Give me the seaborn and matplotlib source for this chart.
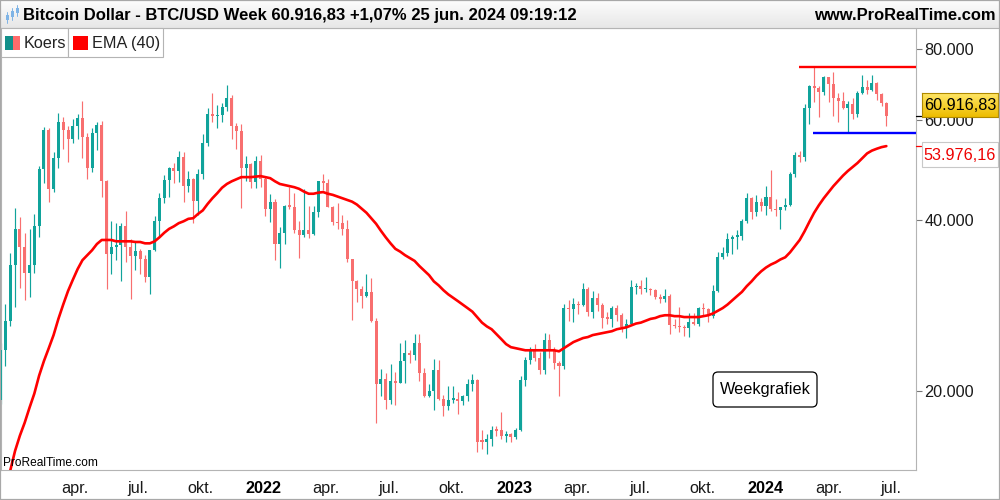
import numpy as np
import pandas as pd
import matplotlib
matplotlib.use("Agg")
import matplotlib.pyplot as plt
import matplotlib.dates as mdates
from matplotlib.patches import Rectangle, FancyBboxPatch
from matplotlib.lines import Line2D
from matplotlib.ticker import NullLocator
import seaborn as sns

# ---------------- data (weekly candles, USD) ----------------
first_week = "2020-12-14"
opens = [19300, 23600, 26600, 33300, 38500, 35900, 32300, 33400, 39000, 49200,
         57600, 45400, 51400, 59600, 57600, 55500, 58600, 60400, 56100, 49300,
         57000, 58900, 46900, 34900, 35900, 36100, 39000, 35800, 34600, 35300,
         34200, 31800, 35500, 39900, 43800, 47000, 49300, 48800, 51700, 46000,
         47300, 43200, 48200, 54700, 61500, 60900, 61300, 63300, 65500, 58600,
         57300, 49400, 50100, 46700, 50800, 47300, 41800, 43100, 36300, 37900,
         42400, 42200, 38400, 37700, 38400, 37800, 41300, 46800, 46400, 42200,
         39700, 39500, 38500, 34100, 31300, 30300, 29400, 29900, 26600, 20600,
         21000, 19300, 20800, 20700, 22600, 23300, 23200, 24300, 21500, 19600,
         20000, 21800, 19400, 18800, 19300, 19400, 19200, 19600, 20600, 20900,
         16400, 16300, 16500, 17100, 17100, 16700, 16800, 16600, 17100, 20900,
         22700, 23700, 22900, 21800, 24600, 23500, 22400, 22100, 28000, 27900,
         28500, 28300, 30300, 27600, 29200, 28400, 26900, 26800, 28000, 27200,
         25900, 26300, 30500, 30600, 30200, 30300, 30100, 29300, 29000, 29400,
         26100, 26000, 25900, 25800, 26500, 26300, 28000, 27900, 27100, 30000,
         34500, 35000, 37000, 37400, 37500, 39900, 43800, 41300, 43000, 42300,
         43900, 41800, 41600, 42100, 42600, 48300, 52100, 51700, 63100, 68900,
         68400, 67200, 71300, 69400, 65700, 64900, 63100, 63900, 61500, 66900,
         68500, 67800, 69600, 66600, 64200]
highs = [24300, 28500, 35000, 42000, 40500, 37900, 38600, 41000, 49700, 58400,
         58200, 52700, 61800, 60800, 58500, 60300, 61500, 64900, 57000, 58000,
         59600, 59800, 47000, 39800, 39500, 39600, 41500, 37000, 36600, 35600,
         34700, 35400, 40600, 44700, 48100, 49600, 50500, 52900, 52800, 48800,
         47400, 49200, 56600, 62900, 67000, 63700, 64200, 69000, 66300, 59300,
         59100, 51900, 50500, 51900, 52100, 47600, 44400, 43500, 38900, 42600,
         45800, 44700, 39800, 45400, 42400, 42300, 46900, 48200, 47200, 42400,
         42900, 40800, 40000, 34200, 31400, 30600, 32200, 31600, 26900, 21900,
         21500, 22300, 21600, 24300, 24600, 23600, 25200, 25200, 22000, 20600,
         22800, 22700, 19700, 20400, 20400, 19900, 19700, 21000, 21400, 21000,
         17100, 16800, 17400, 17400, 18400, 17000, 16900, 17200, 21300, 23000,
         23900, 24200, 23400, 25300, 25200, 23900, 22600, 28500, 28900, 29200,
         28800, 31000, 30500, 30000, 29800, 28600, 27600, 28200, 28400, 27400,
         26800, 31400, 31000, 31400, 31800, 30400, 30300, 29700, 30200, 29700,
         26800, 28100, 26100, 27400, 27400, 28100, 28600, 28000, 30800, 35200,
         35900, 37900, 37700, 38400, 40200, 44700, 44000, 44300, 43800, 45900,
         48900, 43600, 42200, 43800, 48600, 52800, 52900, 64000, 69200, 74300,
         68900, 71600, 71400, 72800, 66900, 67200, 64700, 65500, 67400, 71900,
         70600, 71900, 70100, 67000, 64500]
lows = [19000, 22100, 26000, 28100, 30400, 28900, 29300, 32300, 37400, 46500,
        43100, 44900, 49400, 53300, 50600, 54700, 55500, 51500, 47200, 48600,
        53100, 44000, 30200, 32200, 34000, 31300, 33800, 29000, 32700, 32100,
        31100, 29600, 35300, 37500, 42800, 43900, 46400, 46600, 43000, 44800,
        39600, 40900, 47200, 53900, 59500, 58000, 59500, 62300, 55600, 53300,
        42000, 46800, 45500, 45500, 45700, 40600, 39700, 34000, 32900, 36300,
        41800, 38000, 34300, 37400, 37200, 37600, 40500, 45200, 42100, 39200,
        38500, 37700, 33700, 26700, 28700, 28000, 29300, 26500, 17600, 19600,
        18600, 19000, 18900, 20700, 20700, 22400, 22700, 20800, 19500, 19500,
        18500, 19300, 18100, 18500, 19100, 18200, 18900, 19200, 20000, 15600,
        15800, 15500, 16000, 16700, 16500, 16300, 16300, 16500, 17000, 20400,
        22300, 22600, 21400, 21400, 22900, 21900, 19600, 21900, 26600, 26500,
        27300, 28200, 27100, 26900, 27700, 25800, 26200, 25900, 26600, 25400,
        24800, 26200, 29600, 29700, 29900, 29500, 29000, 28600, 28700, 25200,
        25800, 25400, 25000, 24900, 26100, 26000, 27200, 26500, 26900, 29900,
        34100, 34600, 34800, 35600, 36900, 39600, 40200, 40600, 41500, 40800,
        41500, 40700, 38500, 41600, 42300, 47700, 50600, 50900, 59000, 64600,
        60800, 66400, 64500, 61000, 59600, 62800, 56900, 60200, 60800, 66700,
        66600, 67600, 65100, 63400, 58500]
closes = [23600, 26600, 33300, 38500, 35900, 32300, 33400, 39000, 49200, 57600,
          45400, 51400, 59600, 57600, 55500, 58600, 60400, 56100, 49300, 57000,
          58900, 46900, 34900, 35900, 36100, 39000, 35800, 34600, 35300, 34200,
          31800, 35500, 39900, 43800, 47000, 49300, 48800, 51700, 46000, 47300,
          43200, 48200, 54700, 61500, 60900, 61300, 63300, 65500, 58600, 57300,
          49400, 50100, 46700, 50800, 47300, 41800, 43100, 36300, 37900, 42400,
          42200, 38400, 37700, 38400, 37800, 41300, 46800, 46400, 42200, 39700,
          39500, 38500, 34100, 31300, 30300, 29400, 29900, 26600, 20600, 21000,
          19300, 20800, 20700, 22600, 23300, 23200, 24300, 21500, 19600, 20000,
          21800, 19400, 18800, 19300, 19400, 19200, 19600, 20600, 20900, 16300,
          16300, 16500, 17100, 17050, 16700, 16800, 16600, 17100, 20900, 22700,
          23700, 22900, 21800, 24600, 23500, 22400, 22100, 28000, 27900, 28500,
          28300, 30300, 27600, 29200, 28400, 26900, 26800, 28000, 27200, 25900,
          26300, 30500, 30600, 30200, 30300, 30100, 29300, 29000, 29400, 26100,
          26000, 25900, 25800, 26500, 26300, 28000, 27900, 27100, 30000, 34500,
          35000, 37000, 37400, 37500, 39900, 43800, 41300, 43000, 42300, 43900,
          41800, 41600, 42100, 42600, 48300, 52100, 51700, 63100, 68900, 68400,
          67200, 71300, 69400, 65700, 64900, 63100, 63900, 61500, 66900, 68500,
          67800, 69600, 66600, 64200, 60917]

# EMA(40), one value per week starting 2020-12-28
ema_first_week = "2020-12-28"
ema_values = [14500, 15700, 16700, 17600, 18700, 19800, 21300, 22600, 23800, 25100,
              26800, 28400, 30000, 31400, 32800, 34000, 34700, 35400, 36300, 36900,
              36900, 36900, 36700, 36700, 36700, 36700, 36600, 36600, 36400, 36400,
              36700, 37300, 38000, 38600, 39000, 39500, 39800, 40200, 40300, 41000,
              41600, 42700, 43700, 44600, 45600, 46300, 46800, 47200, 47600, 47600,
              47600, 47700, 47800, 47600, 47400, 46800, 46300, 46100, 45900, 45700,
              45400, 44900, 44500, 44500, 44700, 44800, 44500, 44300, 44000, 43700,
              43400, 43100, 42600, 41900, 41200, 40300, 39400, 38300, 37300, 36400,
              35600, 35200, 34700, 34300, 33900, 33200, 32600, 32000, 31200, 30700,
              30100, 29600, 29200, 28800, 28400, 28000, 27600, 27000, 26400, 26000,
              25700, 25200, 24700, 24200, 23900, 23800, 23700, 23600, 23600, 23600,
              23600, 23600, 23600, 23600, 23500, 23800, 24100, 24400, 24600, 24800,
              24900, 25100, 25200, 25300, 25400, 25500, 25700, 25800, 25900, 26100,
              26300, 26400, 26600, 26800, 26900, 27100, 27200, 27200, 27100, 27100,
              27000, 27000, 27000, 27000, 27100, 27200, 27400, 27700, 28000, 28400,
              28900, 29400, 29900, 30600, 31200, 31900, 32500, 33000, 33400, 33700,
              34100, 34400, 35100, 36000, 36900, 38200, 39700, 41200, 42500, 43700,
              44800, 45900, 46900, 47900, 48800, 49600, 50400, 51400, 52400, 53000,
              53400, 53750, 53976]

resistance_level = 74400
resistance_from = "2024-02-18"
support_level = 56900
support_from = "2024-03-09"

y_ticks = [20000, 40000, 60000, 80000]
y_tick_labels = ["20.000", "40.000", "60.000", "80.000"]
x_tick_dates = ["2021-01-01", "2021-04-01", "2021-07-01", "2021-10-01",
                "2022-01-01", "2022-04-01", "2022-07-01", "2022-10-01",
                "2023-01-01", "2023-04-01", "2023-07-01", "2023-10-01",
                "2024-01-01", "2024-04-01", "2024-07-01"]
x_tick_labels = ["", "apr.", "jul.", "okt.", "2022", "apr.", "jul.", "okt.",
                 "2023", "apr.", "jul.", "okt.", "2024", "apr.", "jul."]

title_text = "Bitcoin Dollar - BTC/USD Week 60.916,83 +1,07% 25 jun. 2024 09:19:12"
site_text = "www.ProRealTime.com"
legend_labels = ["Koers", "EMA (40)"]
last_price = 60916.83
last_price_label = "60.916,83"
ema_last_label = "53.976,16"
note_text = "Weekgrafiek"
watermark = "ProRealTime.com"

# ---------------- style ----------------
TEAL = "#10a39b"
SALMON = "#f86f6f"
EMA_RED = "#ff0000"
GRID_GRAY = "#b4b4b4"
FS = 11.7

sns.set_theme(style="white")
plt.rcParams["font.family"] = ["Liberation Sans", "DejaVu Sans"]

W, H = 1000, 500
fig = plt.figure(figsize=(10, 5), dpi=100)
fig.patch.set_facecolor("white")
IN = fig.dpi_scale_trans


def P(x, y):
    """pixel (top-left origin) -> inches for dpi_scale_trans"""
    return x / 100.0, (H - y) / 100.0


# plot area in pixels
L, R, T, B = 1, 916, 28, 470
ax = fig.add_axes([L / W, 1 - B / H, (R - L) / W, (B - T) / H])
ax.set_facecolor("white")

ref = mdates.date2num(pd.Timestamp("2022-01-01"))
px_per_day = 251.0 / 365.0
x_left = ref - (264 - L) / px_per_day
x_right = ref + (R - 264) / px_per_day

dates = pd.date_range(first_week, periods=len(closes), freq="7D")
xs = mdates.date2num(dates)
o = np.array(opens, float)
h = np.array(highs, float)
lo = np.array(lows, float)
c = np.array(closes, float)
up = c >= o
cols = np.where(up, TEAL, SALMON)

ax.set_yscale("log")
ax.vlines(xs, lo, h, colors=cols, linewidth=0.85, zorder=2)
body_lo = np.minimum(o, c)
body_hi = np.maximum(np.maximum(o, c), body_lo * 1.006)
ax.bar(xs, body_hi - body_lo, bottom=body_lo, width=4.4, color=cols,
       linewidth=0, zorder=3, align="center")

ema_x = mdates.date2num(pd.date_range(ema_first_week, periods=len(ema_values), freq="7D"))
sns.lineplot(x=ema_x, y=ema_values, ax=ax, color=EMA_RED, linewidth=1.9,
             zorder=4, legend=False, estimator=None, sort=False)

ax.hlines(resistance_level, mdates.date2num(pd.Timestamp(resistance_from)), x_right,
          color="#ff0000", linewidth=1.7, zorder=5)
ax.hlines(support_level, mdates.date2num(pd.Timestamp(support_from)), x_right,
          color="#0000ff", linewidth=1.7, zorder=5)

ax.set_xlim(x_left, x_right)
ax.set_ylim(14530, 87100)

ax.yaxis.tick_right()
ax.set_yticks(y_ticks, labels=y_tick_labels)
ax.yaxis.set_minor_locator(NullLocator())
ax.tick_params(axis="y", which="major", direction="out", length=4, width=0.8,
               color="#777777", pad=2, labelsize=FS, labelcolor="#1a1a1a")
ax.set_xticks(mdates.date2num(pd.to_datetime(x_tick_dates)), labels=x_tick_labels)
ax.xaxis.set_minor_locator(NullLocator())
ax.tick_params(axis="x", which="major", direction="out", length=4, width=0.8,
               color="#9a9a9a", pad=4, labelsize=FS, labelcolor="#1a1a1a")
for lbl in ax.get_xticklabels():
    if lbl.get_text().isdigit():
        lbl.set_fontweight("bold")
        lbl.set_color("black")
ax.set_xlabel("")
ax.set_ylabel("")
ax.grid(False)
for sp in ax.spines.values():
    sp.set_color(GRID_GRAY)
    sp.set_linewidth(0.8)

# current price / ema markers on the axis
ytr = ax.get_yaxis_transform()
ax.plot([1.0, 1.006], [last_price, last_price], transform=ytr, clip_on=False,
        color="black", linewidth=0.9, zorder=6)
ax.plot([1.0, 1.006], [ema_values[-1], ema_values[-1]], transform=ytr, clip_on=False,
        color="#ff0000", linewidth=0.9, zorder=6)

# ---------------- header ----------------
hdr = fig.add_axes([0, 1 - 28 / H, 1, 28 / H])
grad = np.linspace(0, 1, 50).reshape(-1, 1)
top_c = np.array([0.992, 0.992, 0.992])
bot_c = np.array([0.905, 0.905, 0.905])
img = top_c + (bot_c - top_c) * grad[:, :, None] * np.ones((1, 1, 3))
hdr.imshow(img, aspect="auto", extent=[0, 1, 0, 1])
hdr.set_axis_off()
fig.add_artist(Line2D([0, 10], [P(0, 28)[1]] * 2, transform=IN, color=GRID_GRAY, linewidth=0.8))

fig.text(*P(23, 15), title_text, transform=IN, fontsize=12.0, fontweight="bold",
         ha="left", va="center", color="black", zorder=6)
fig.text(*P(996, 15), site_text, transform=IN, fontsize=11.9, fontweight="bold",
         ha="right", va="center", color="black", zorder=6)
# small candlestick icon
for xi, y0, y1, b0, b1 in [(7, 12, 23, 15, 20), (12, 8, 20, 11, 17), (17, 5, 16, 8, 13)]:
    fig.add_artist(Line2D([P(xi, 0)[0]] * 2, [P(0, y0)[1], P(0, y1)[1]], transform=IN,
                          color="#7fb4e6", linewidth=0.7, zorder=6))
    fig.add_artist(Rectangle(P(xi - 1.5, b1), 0.03, (b1 - b0) / 100.0, transform=IN,
                             facecolor="#7fb4e6", edgecolor="none", zorder=6))

# ---------------- legend cells ----------------
for x0, x1 in [(1, 68), (68, 163)]:
    fig.add_artist(Rectangle(P(x0, 57), (x1 - x0) / 100.0, 29 / 100.0, transform=IN,
                             facecolor="white", edgecolor=GRID_GRAY, linewidth=0.8, zorder=6))
fig.add_artist(Rectangle(P(5, 50), 0.075, 0.145, transform=IN, facecolor="#12908a",
                         edgecolor="none", zorder=7))
fig.add_artist(Rectangle(P(12.5, 50), 0.075, 0.145, transform=IN, facecolor="#ff6b6b",
                         edgecolor="none", zorder=7))
fig.add_artist(Rectangle(P(73, 50), 0.145, 0.145, transform=IN, facecolor="#ff0000",
                         edgecolor="none", zorder=7))
fig.text(*P(23.5, 43.5), legend_labels[0], transform=IN, fontsize=FS, ha="left",
         va="center", color="#222222", zorder=8)
fig.text(*P(92, 43.5), legend_labels[1], transform=IN, fontsize=FS, ha="left",
         va="center", color="#222222", zorder=8)

# ---------------- price labels on the right axis ----------------
ybox = fig.add_axes([922 / W, 1 - 117 / H, 76 / W, 24 / H], zorder=5)
g2 = np.linspace(0, 1, 30).reshape(-1, 1)
ytop = np.array([1.0, 0.90, 0.40])
ybot = np.array([0.93, 0.74, 0.0])
ybox.imshow(ytop + (ybot - ytop) * g2[:, :, None] * np.ones((1, 1, 3)), aspect="auto",
            extent=[0, 1, 0, 1])
ybox.set_xticks([])
ybox.set_yticks([])
for sp in ybox.spines.values():
    sp.set_color("#b08a00")
    sp.set_linewidth(0.8)
ybox.text(0.5, 0.48, last_price_label, transform=ybox.transAxes, fontsize=FS,
          ha="center", va="center", color="black")

fig.add_artist(Rectangle(P(922, 167), 0.76, 0.25, transform=IN, facecolor="white",
                         edgecolor="#c8c8c8", linewidth=0.8, zorder=6))
fig.text(*P(960, 155), ema_last_label, transform=IN, fontsize=FS, ha="center",
         va="center", color="#ee0000", zorder=7)

# ---------------- annotation + watermark ----------------
fig.add_artist(FancyBboxPatch(P(713, 407), 1.04, 0.35, transform=IN,
                              boxstyle="round,pad=0,rounding_size=0.05",
                              facecolor="white", edgecolor="black", linewidth=0.9, zorder=6))
fig.text(*P(765, 389.5), note_text, transform=IN, fontsize=FS, ha="center",
         va="center", color="black", zorder=7)
fig.text(*P(3, 463), watermark, transform=IN, fontsize=8.6, ha="left",
         va="center", color="black", zorder=6)

# outer border
fig.add_artist(Rectangle((0, 0), 1, 1, transform=fig.transFigure, fill=False,
                         edgecolor="#a8a8a8", linewidth=1.6, zorder=10))

fig.savefig("out.png", dpi=100, facecolor="white")
